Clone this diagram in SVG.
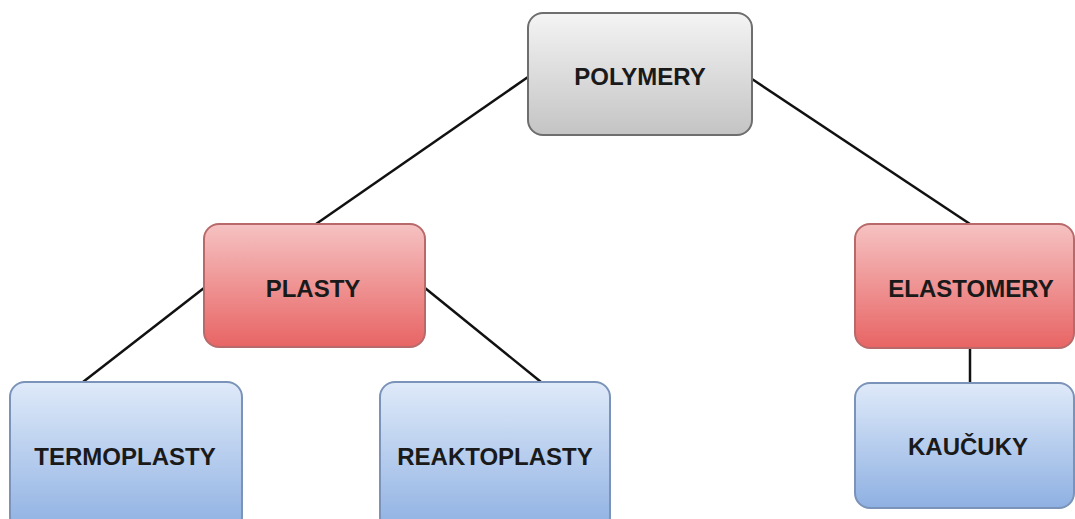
<svg xmlns="http://www.w3.org/2000/svg" width="1075" height="519" viewBox="0 0 1075 519">
<defs>
<linearGradient id="gGray" x1="0" y1="0" x2="0" y2="1"><stop offset="0" stop-color="#f4f4f4"/><stop offset="1" stop-color="#c4c4c4"/></linearGradient>
<linearGradient id="gRed" x1="0" y1="0" x2="0" y2="1"><stop offset="0" stop-color="#f6c2c2"/><stop offset="1" stop-color="#e86464"/></linearGradient>
<linearGradient id="gBlue" x1="0" y1="0" x2="0" y2="1"><stop offset="0" stop-color="#dfeaf9"/><stop offset="1" stop-color="#8eb0e2"/></linearGradient>
</defs>
<style>
.gray{fill:url(#gGray);stroke:#6e6e6e;stroke-width:2}
.red{fill:url(#gRed);stroke:#b86a6a;stroke-width:2}
.blue{fill:url(#gBlue);stroke:#7b93b8;stroke-width:2}
.t{font-family:"Liberation Sans",Arial,sans-serif;font-weight:bold;font-size:24px;fill:#1a1a1a;text-anchor:middle}
.c{stroke:#111;stroke-width:2.5;fill:none}
</style>
<g id="connectors">
<line class="c" x1="528" y1="77" x2="316" y2="224"/>
<line class="c" x1="752" y1="79" x2="970" y2="224"/>
<line class="c" x1="204" y1="288" x2="83" y2="382"/>
<line class="c" x1="425" y1="288" x2="541" y2="382"/>
<line class="c" x1="970" y1="348" x2="970" y2="383"/>
</g>
<g id="polymery"><rect class="gray" x="528" y="13" width="224" height="122" rx="15"/><text class="t" x="640" y="85">POLYMERY</text></g>
<g id="plasty"><rect class="red" x="204" y="224" width="221" height="123" rx="15"/><text class="t" x="313" y="297">PLASTY</text></g>
<g id="elastomery"><rect class="red" x="855" y="224" width="219" height="124" rx="15"/><text class="t" x="971" y="297">ELASTOMERY</text></g>
<g id="termoplasty"><rect class="blue" x="10" y="382" width="232" height="150" rx="15"/><text class="t" x="125" y="465">TERMOPLASTY</text></g>
<g id="reaktoplasty"><rect class="blue" x="380" y="382" width="230" height="150" rx="15"/><text class="t" x="495" y="465">REAKTOPLASTY</text></g>
<g id="kaucuky"><rect class="blue" x="855" y="383" width="219" height="125" rx="15"/><text class="t" x="968" y="455">KAUČUKY</text></g>
</svg>
